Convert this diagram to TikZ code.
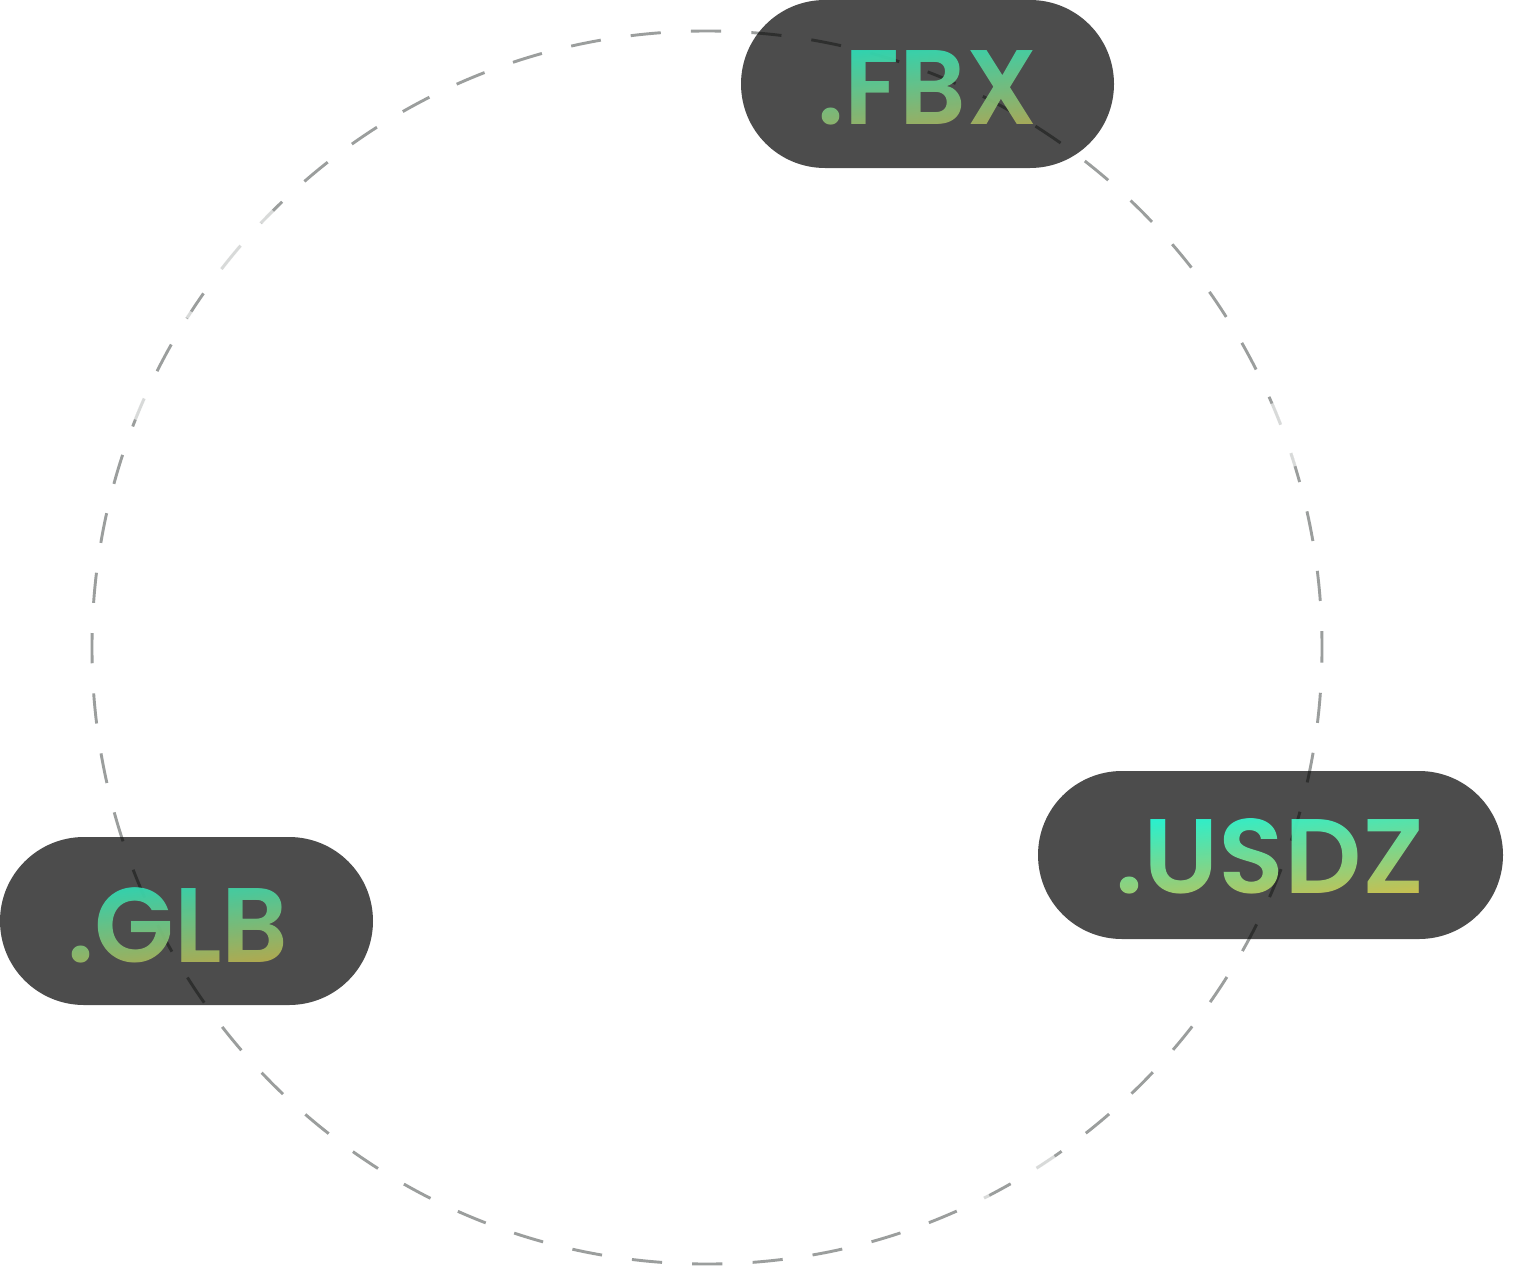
\documentclass[tikz,border=0pt]{standalone}
\usepackage{fontspec}
\usetikzlibrary{fadings}
\newfontfamily\pillfont{Poppins SemiBold}
\tikzset{
  x=1pt, y=-1pt,
  ring/.style={draw=ringgray, line width=2.9pt, dash pattern=on 30.22pt off 30.22pt, dash phase=15.11pt},
  veil/.style={draw=white, draw opacity=.62, line width=3.8pt},
  pill/.style={fill=black, fill opacity=.7, rounded corners=84pt},
  mask/.style={text=transparent!7, inner sep=0pt, outer sep=0pt, font=\pillfont\fontsize{106}{106}\selectfont},
}
\definecolor{ringgray}{HTML}{9B9E9D}
\definecolor{fbxtop}{HTML}{28E0BC}
\definecolor{fbxbot}{HTML}{AEB05A}
\definecolor{usdztop}{HTML}{20FFDE}
\definecolor{usdzbot}{HTML}{D2C850}
\definecolor{glbtop}{HTML}{28DDBB}
\definecolor{glbbot}{HTML}{BAB04E}
\begin{tikzfadingfrompicture}[name=fbxmask]
  \node[mask, xscale=.98] (fbxtext) {.FBX};
\end{tikzfadingfrompicture}
\begin{tikzfadingfrompicture}[name=usdzmask]
  \node[mask, xscale=1.02] (usdztext) {.USDZ};
\end{tikzfadingfrompicture}
\begin{tikzfadingfrompicture}[name=glbmask]
  \node[mask, xscale=.98] (glbtext) {.GLB};
\end{tikzfadingfrompicture}
% lighter stretch of the ring between two angles
\newcommand{\veilarc}[2]{\draw[veil] ({707+615*cos(#1)},{647.5-616.5*sin(#1)}) arc[start angle=-#1, end angle=-#2, x radius=615, y radius=616.5];}
\begin{document}
\begin{tikzpicture}
  \useasboundingbox (0,0) rectangle (1528,1266);
  \fill[white] (0,0) rectangle (1528,1266);
  % dashed ring
  \draw[ring] (707,647.5) circle[x radius=615, y radius=616.5];
  % lighter stretches
  \veilarc{21.1}{23.3}
  \veilarc{17.1}{18.4}
  \veilarc{134.9}{136.5}
  \veilarc{139}{142.3}
  \veilarc{147}{147.7}
  \veilarc{156}{158.3}
  \veilarc{-57.9}{-55.6}
  \veilarc{-63.4}{-62.7}
  % format pills
  \fill[pill] (741,0) rectangle (1114,168);
  \fill[pill] (1038,771) rectangle (1503,939);
  \fill[pill] (0,837) rectangle (373,1005);
  % gradient labels
  \shade[path fading=fbxmask, fit fading=false, fading transform={shift={(927.5,87.5)}},
         top color=fbxtop, bottom color=fbxbot, shading angle=6] (810,45) rectangle (1045,128);
  \shade[path fading=usdzmask, fit fading=false, fading transform={shift={(1270,856.5)}},
         top color=usdztop, bottom color=usdzbot, shading angle=6] (1110,814) rectangle (1430,897);
  \shade[path fading=glbmask, fit fading=false, fading transform={shift={(178,925)}},
         top color=glbtop, bottom color=glbbot, shading angle=6] (60,883) rectangle (295,965);
\end{tikzpicture}
\end{document}
